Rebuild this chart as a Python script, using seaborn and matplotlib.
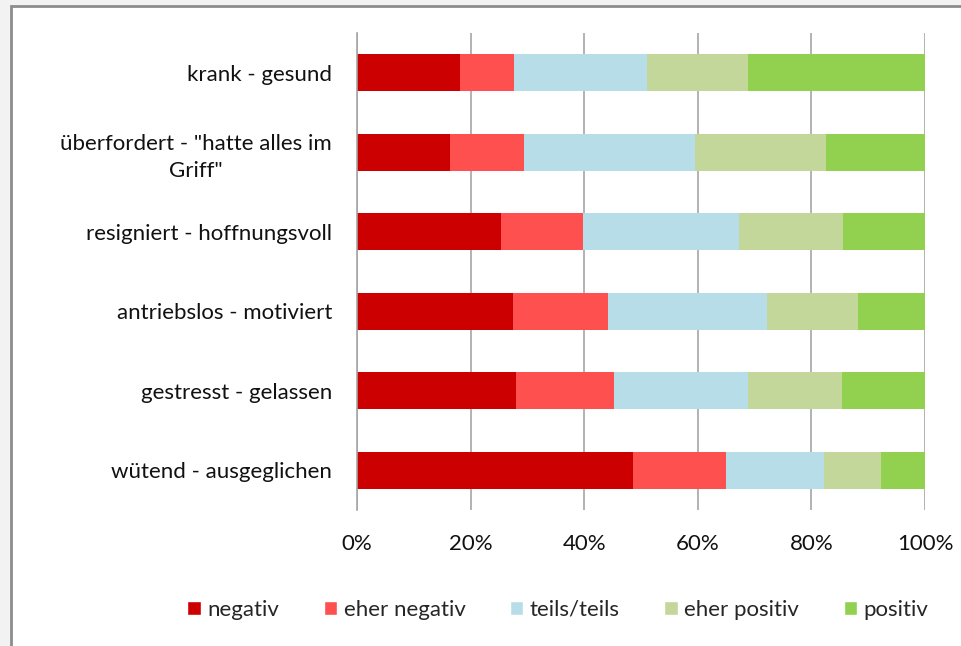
import numpy as np
import pandas as pd
import matplotlib.pyplot as plt
import seaborn as sns
from matplotlib.patches import Patch, Rectangle

# Daten (Prozentanteile je Item)
categories = ['krank - gesund',
              'überfordert - "hatte alles im\nGriff"',
              'resigniert - hoffnungsvoll',
              'antriebslos - motiviert',
              'gestresst - gelassen',
              'wütend - ausgeglichen']
levels = ['negativ', 'eher negativ', 'teils/teils', 'eher positiv', 'positiv']
colors = ['#CC0000', '#FF5050', '#B7DEE8', '#C4D79B', '#92D050']

negativ = [18.1, 16.4, 25.4, 27.5, 28.0, 48.6]
eher_negativ = [9.5, 13.0, 14.4, 16.7, 17.2, 16.4]
teils_teils = [23.5, 30.1, 27.5, 28.0, 23.6, 17.2]
eher_positiv = [17.7, 23.1, 18.3, 16.0, 16.6, 10.1]
positiv = [31.2, 17.4, 14.4, 11.8, 14.6, 7.7]

x_ticks = [0, 20, 40, 60, 80, 100]

df = pd.DataFrame({'negativ': negativ, 'eher negativ': eher_negativ,
                   'teils/teils': teils_teils, 'eher positiv': eher_positiv,
                   'positiv': positiv}, index=categories)
cum = df.cumsum(axis=1)

sns.set_style('white')
plt.rcParams['font.family'] = ['Lato', 'DejaVu Sans']
plt.rcParams['font.size'] = 16

fig = plt.figure(figsize=(9.61, 6.46), dpi=100)
fig.patch.set_facecolor('#F2F2F2')
# Rahmen des Diagrammbereichs
fig.add_artist(Rectangle((10.5 / 961, -0.1), 1.2, 1 - 5.5 / 646 + 0.1,
                         transform=fig.transFigure, facecolor='white',
                         edgecolor='#8C8C8C', lw=2, zorder=-1))

ax = fig.add_axes([357 / 961, 1 - 510 / 646, (925 - 357) / 961, (510 - 33) / 646])
ax.set_facecolor('none')

# gestapelte Balken: von der Summe rückwärts übereinander zeichnen
for level, color in reversed(list(zip(levels, colors))):
    sns.barplot(x=cum[level].values, y=categories, color=color, orient='h',
                width=0.47, saturation=1, linewidth=0, ax=ax)

ax.set_xlim(0, 100)
ax.set_ylim(len(categories) - 0.5, -0.5)
ax.set_xticks(x_ticks)
ax.set_xticklabels([f'{t}%' for t in x_ticks])
ax.tick_params(axis='x', length=0, pad=17, colors='#111111')
ax.tick_params(axis='y', which='major', length=0, pad=18, colors='#111111')
ax.set_yticks(np.arange(-0.5, len(categories), 1), minor=True)
ax.tick_params(axis='y', which='minor', length=5, width=1, color='#A6A6A6', direction='out')
for lab in ax.get_yticklabels():
    lab.set_multialignment('center')
    lab.set_linespacing(1.45)
ax.set_xlabel('')
ax.set_ylabel('')

ax.set_axisbelow(True)
ax.xaxis.grid(True, color='#A6A6A6', lw=1.2)
for side in ['top', 'right', 'bottom']:
    ax.spines[side].set_visible(False)
ax.spines['left'].set_color('#A6A6A6')
ax.spines['left'].set_linewidth(1.2)

handles = [Patch(facecolor=c, label=l) for l, c in zip(levels, colors)]
fig.legend(handles=handles, loc='center', bbox_to_anchor=(558 / 961, 1 - 610 / 646),
           ncol=5, frameon=False, handlelength=0.6, handleheight=0.6,
           handletextpad=0.3, columnspacing=2.0)

fig.savefig('out.png', dpi=100, facecolor=fig.get_facecolor())
